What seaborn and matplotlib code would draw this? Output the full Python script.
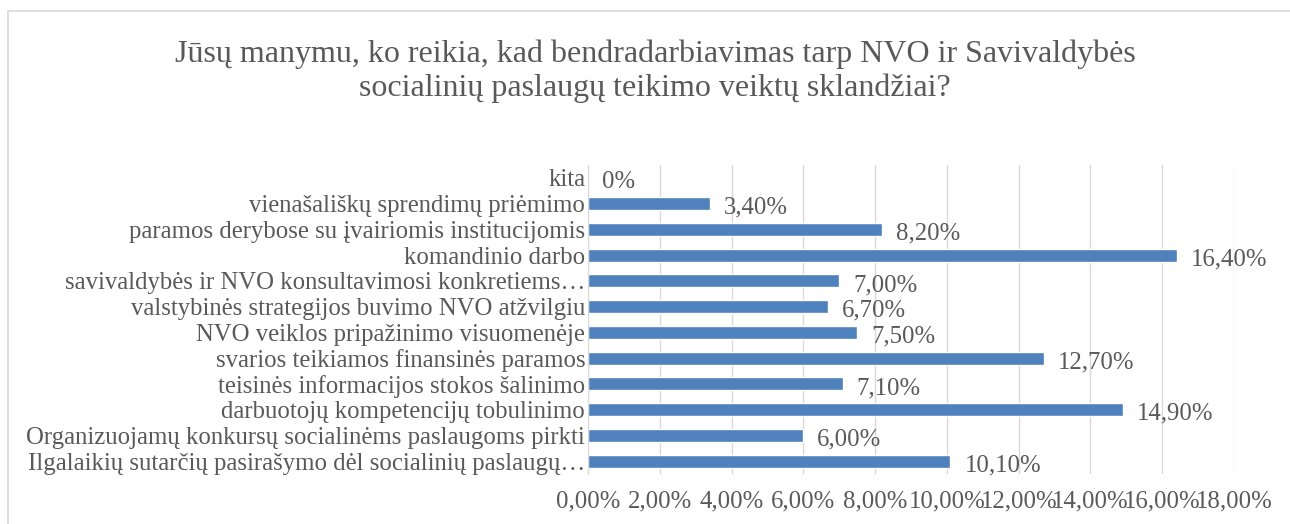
import matplotlib
matplotlib.use("Agg")
import matplotlib.pyplot as plt
import seaborn as sns
import pandas as pd
from matplotlib.patches import Rectangle

# categories listed top to bottom as they appear
categories = [
    "kita",
    "vienašališkų sprendimų priėmimo",
    "paramos derybose su įvairiomis institucijomis",
    "komandinio darbo",
    "savivaldybės ir NVO konsultavimosi konkretiems…",
    "valstybinės strategijos buvimo NVO atžvilgiu",
    "NVO veiklos pripažinimo visuomenėje",
    "svarios teikiamos finansinės paramos",
    "teisinės informacijos stokos šalinimo",
    "darbuotojų kompetencijų tobulinimo",
    "Organizuojamų konkursų socialinėms paslaugoms pirkti",
    "Ilgalaikių sutarčių pasirašymo dėl socialinių paslaugų…",
]
values = [0.0, 3.4, 8.2, 16.4, 7.0, 6.7, 7.5, 12.7, 7.1, 14.9, 6.0, 10.1]
value_labels = ["0%", "3,40%", "8,20%", "16,40%", "7,00%", "6,70%", "7,50%",
                "12,70%", "7,10%", "14,90%", "6,00%", "10,10%"]
xticks = [0, 2, 4, 6, 8, 10, 12, 14, 16, 18]
xtick_labels = ["0,00%", "2,00%", "4,00%", "6,00%", "8,00%", "10,00%",
                "12,00%", "14,00%", "16,00%", "18,00%"]
title = ("Jūsų manymu, ko reikia, kad bendradarbiavimas tarp NVO ir Savivaldybės\n"
         "socialinių paslaugų teikimo veiktų sklandžiai?")

df = pd.DataFrame({"cat": categories, "val": values})

sns.set_style("white")
plt.rcParams["font.family"] = ["Liberation Serif", "DejaVu Serif"]
txt = "#595959"
fs = 17.8

fig = plt.figure(figsize=(12.9, 5.24), dpi=100)
ax = fig.add_axes([588 / 1290, 1 - 474 / 524, (1234 - 588) / 1290, (474 - 165) / 524])

sns.barplot(data=df, x="val", y="cat", orient="h", color="#4F81BD",
            saturation=1, width=0.5, ax=ax)

ax.set_xlim(0, 18)
ax.set_xticks(xticks)
ax.set_xticklabels(xtick_labels, fontsize=fs, color=txt)
ax.tick_params(axis="x", length=0, pad=12)
ax.tick_params(axis="y", length=0, pad=2, labelsize=fs, labelcolor=txt)
ax.set_xlabel("")
ax.set_ylabel("")
ax.grid(axis="x", color="#D9D9D9", linewidth=1)
ax.set_axisbelow(True)
for s in ["top", "right", "bottom"]:
    ax.spines[s].set_visible(False)
ax.spines["left"].set_color("#D9D9D9")

for i, (v, lab) in enumerate(zip(values, value_labels)):
    ax.annotate(lab, xy=(v, i), xytext=(10, -3), textcoords="offset points",
                ha="left", va="center", fontsize=fs, color=txt)

fig.text(655 / 1290, 1 - 71 / 524, title, ha="center", va="center",
         fontsize=23, color=txt, linespacing=1.2)

fig.patches.append(Rectangle((8 / 1290, -0.1), 1.2, 1 - 11 / 524 + 0.1,
                             transform=fig.transFigure, fill=False,
                             edgecolor="#D9D9D9", linewidth=1.2))

fig.savefig("out.png", dpi=100)
